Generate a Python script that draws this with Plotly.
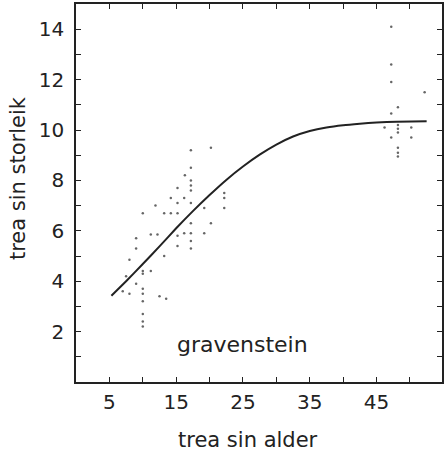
import plotly.graph_objects as go

# fitted growth curve
curve_age = [5.3, 7.5, 10, 12.5, 15, 17.5, 20, 22.5, 25, 27.5, 30, 32.5, 35, 37.5, 40, 42.5, 45, 48, 52.5]
curve_size = [3.42, 4.0, 4.68, 5.38, 6.1, 6.78, 7.42, 8.02, 8.55, 9.02, 9.42, 9.74, 9.96, 10.1, 10.19, 10.25, 10.3, 10.33, 10.35]

# observed trees
obs_age = [7.5, 8.0, 8.0, 9.0, 9.0, 9.0, 7.0,
           10.0, 10.0, 10.0, 10.0, 10.0, 10.0, 10.0, 10.0, 10.0,
           11.2, 11.2, 11.9, 12.2, 12.5, 13.5, 13.2, 13.2,
           14.2, 14.2, 15.2, 15.2, 15.2, 15.2, 15.2, 16.2, 16.2, 16.3,
           17.2, 17.2, 17.2, 17.2, 17.2, 17.2, 17.2, 17.2, 17.2, 17.2,
           19.2, 19.2, 20.2, 20.2, 22.2, 22.2, 22.2,
           47.2, 47.2, 47.2, 47.2, 48.2, 48.2, 48.2, 48.2, 46.2, 47.2, 50.2, 50.2,
           48.2, 48.2, 48.2, 52.2]
obs_size = [4.2, 4.85, 3.5, 5.3, 5.7, 3.9, 3.6,
            6.7, 4.4, 4.3, 3.7, 3.5, 3.2, 2.7, 2.4, 2.2,
            5.85, 4.4, 7.0, 5.85, 3.4, 3.3, 6.7, 5.0,
            7.3, 6.7, 7.7, 7.1, 6.7, 5.8, 5.4, 7.3, 5.9, 8.2,
            8.0, 7.8, 7.6, 7.1, 6.3, 5.9, 5.6, 5.3, 9.2, 8.5,
            6.9, 5.9, 6.3, 9.3, 7.5, 7.3, 6.9,
            14.1, 12.6, 11.9, 10.65, 10.9, 10.2, 10.05, 9.9, 10.1, 9.7, 10.1, 9.7,
            9.3, 9.1, 8.95, 11.5]

x_ticks = [5, 15, 25, 35, 45]
x_minor = [10, 20, 30, 40, 50]
y_ticks = [2, 4, 6, 8, 10, 12, 14]
y_minor = [1, 3, 5, 7, 9, 11, 13]

ink = "#222222"
font = "DejaVu Sans"

fig = go.Figure()
fig.add_trace(go.Scatter(x=obs_age, y=obs_size, mode="markers",
                         marker=dict(size=2.5, color="#666666"), hoverinfo="skip"))
fig.add_trace(go.Scatter(x=curve_age, y=curve_size, mode="lines",
                         line=dict(color=ink, width=2, shape="spline", smoothing=0.5)))

fig.add_annotation(x=25.0, y=1.5, text="gravenstein", showarrow=False,
                   font=dict(family=font, size=22, color=ink))
fig.add_annotation(xref="paper", yref="paper", x=0.47, y=-0.153, text="trea sin alder",
                   xanchor="center", yanchor="middle",
                   showarrow=False, font=dict(family=font, size=21, color=ink))
fig.add_annotation(xref="paper", yref="paper", x=-0.158, y=0.54, text="trea sin storleik",
                   xanchor="center", yanchor="middle",
                   textangle=-90, showarrow=False, font=dict(family=font, size=21, color=ink))

axis_common = dict(showgrid=False, zeroline=False, showline=True, linecolor=ink, linewidth=1.5,
                   mirror="ticks", ticks="inside", ticklen=5, tickcolor=ink, tickwidth=1,
                   tickfont=dict(family=font, size=20, color=ink))

fig.update_xaxes(range=[0, 54.8], tickmode="array", tickvals=x_ticks,
                 minor=dict(tickmode="array", tickvals=x_minor, ticks="inside", ticklen=5, tickcolor=ink),
                 ticklabelstandoff=1,
                 **axis_common)
fig.update_yaxes(range=[0, 15.0], tickmode="array", tickvals=y_ticks,
                 minor=dict(tickmode="array", tickvals=y_minor, ticks="inside", ticklen=5, tickcolor=ink),
                 ticklabelstandoff=6,
                 **axis_common)

fig.update_layout(width=445, height=454, showlegend=False,
                  margin=dict(l=76, r=1, t=4, b=72),
                  plot_bgcolor="white", paper_bgcolor="white")

fig.write_html("out.html")
